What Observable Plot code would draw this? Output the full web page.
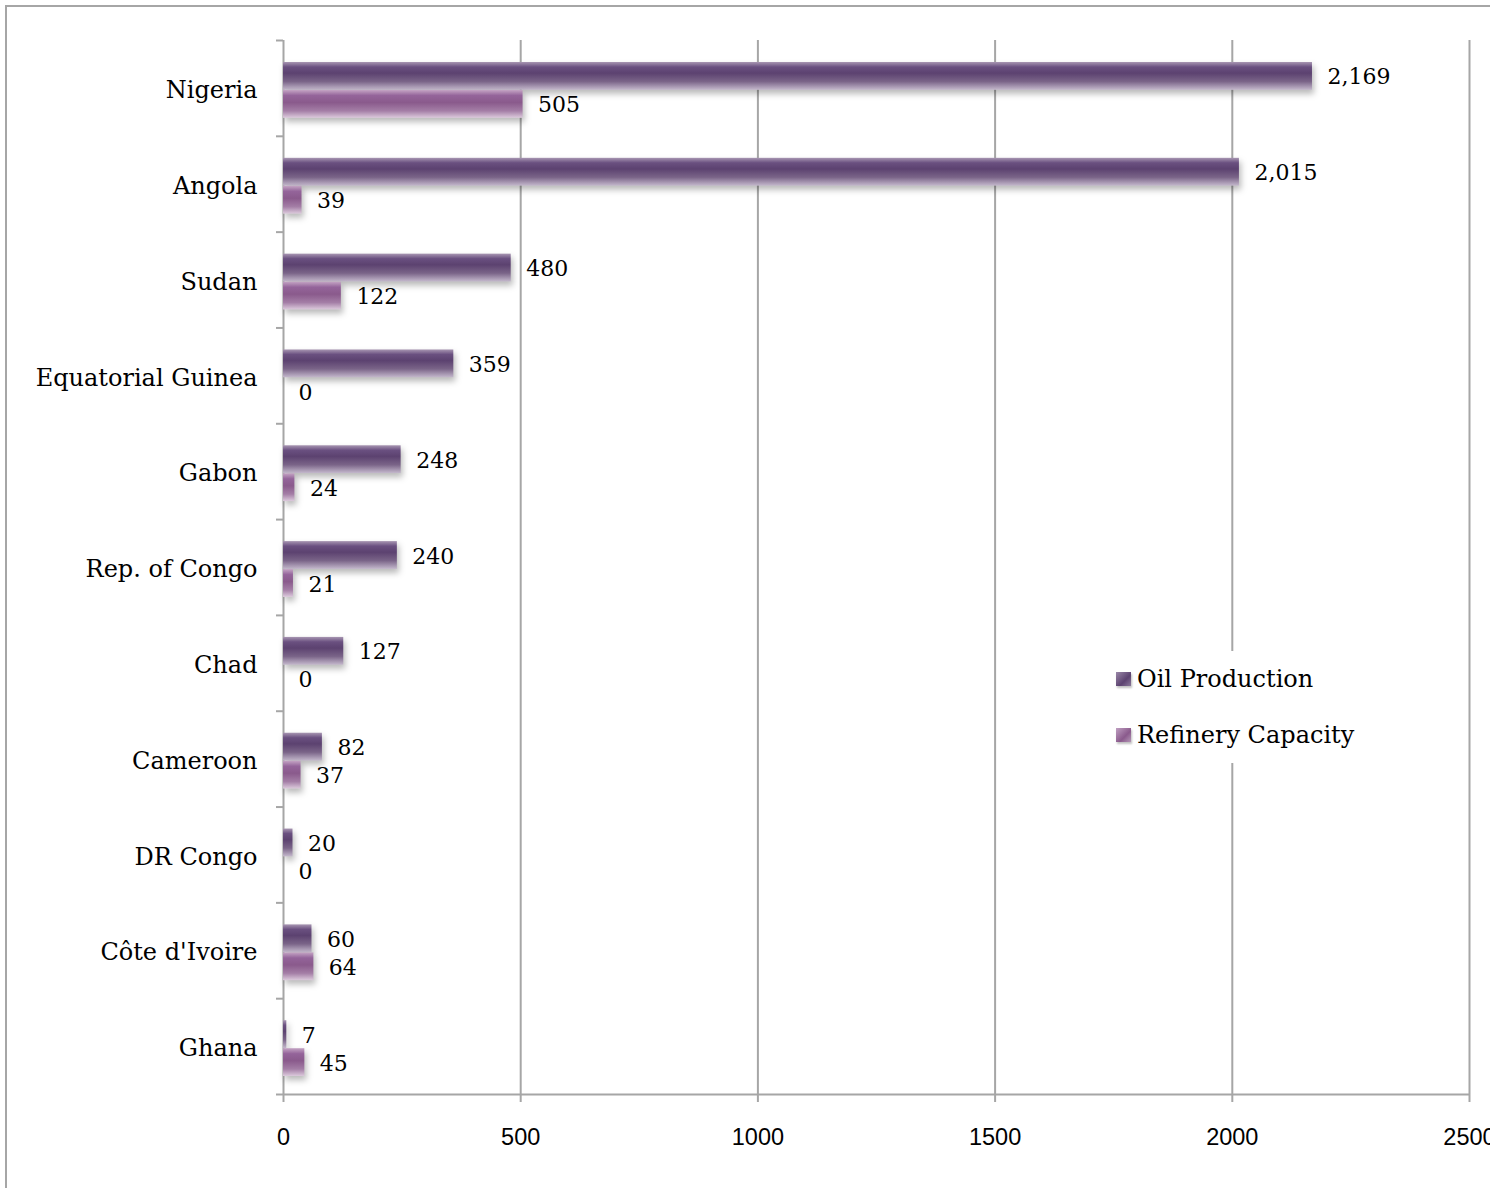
<!DOCTYPE html>
<html>
<head>
<meta charset="utf-8">
<script src="https://cdn.jsdelivr.net/npm/d3@7"></script>
<script src="https://cdn.jsdelivr.net/npm/@observablehq/plot@0.6"></script>
<style>
  html, body { margin: 0; padding: 0; background: #fff; }
  #wrap { position: relative; width: 1490px; height: 1188px; overflow: hidden; }
  #frameL { position: absolute; left: 5px; top: 5px; width: 2px; height: 1183px; background: #a6a6a6; }
  #frameT { position: absolute; left: 5px; top: 5px; height: 2px; width: 1485px; background: #a6a6a6; }
  #chart { position: absolute; left: 0; top: 0; width: 1502px; }
  #chart svg { max-width: none !important; }
  .bars rect { filter: drop-shadow(2px 4px 3px rgba(0,0,0,0.28)); }
  #legend { position: absolute; left: 1108px; top: 651px; width: 262px; padding: 11px 0 11px 8px; background: #fff; font-family: "DejaVu Serif", serif; font-size: 24px; color: #000; }
  .li { display: flex; align-items: center; height: 34px; }
  .li + .li { margin-top: 22px; }
  .sw { width: 15px; height: 14px; margin-right: 6px; box-shadow: 1px 2px 2px rgba(0,0,0,0.25); }
</style>
</head>
<body>
<div id="wrap">
  <div id="chart"></div>
  <div id="frameL"></div>
  <div id="frameT"></div>
  <div id="legend"></div>
</div>
<script>
const countries = ["Nigeria","Angola","Sudan","Equatorial Guinea","Gabon","Rep. of Congo","Chad","Cameroon","DR Congo","Côte d'Ivoire","Ghana"];
const oilProduction = [2169,2015,480,359,248,240,127,82,20,60,7];
const refineryCapacity = [505,39,122,0,24,21,0,37,0,64,45];
const xTicks = [0,500,1000,1500,2000,2500];
const seriesNames = ["Oil Production","Refinery Capacity"];

const oilData = countries.map((c,i) => ({country: c, value: oilProduction[i]}));
const refData = countries.map((c,i) => ({country: c, value: refineryCapacity[i]}));

const W = 1502, H = 1188;
const mTop = 40, mBottom = 94, mLeft = 283, mRight = 33;
const bw = (H - mTop - mBottom) / countries.length;
const grid = "#a6a6a6";
const serif = "DejaVu Serif, serif";
const fmt = d3.format(",");

const plot = Plot.plot({
  width: W, height: H,
  marginTop: mTop, marginBottom: mBottom, marginLeft: mLeft, marginRight: mRight,
  style: {background: "transparent", overflow: "visible", maxWidth: "none"},
  x: {domain: [0, 2500]},
  y: {type: "band", domain: countries, padding: 0, round: false},
  marks: [
    Plot.gridX({ticks: xTicks.slice(1), stroke: grid, strokeOpacity: 1, strokeWidth: 2}),
    Plot.ruleX([0], {stroke: grid, strokeWidth: 2}),
    Plot.ruleY([countries[countries.length-1]], {dy: bw/2, stroke: grid, strokeWidth: 2}),
    Plot.axisY({ticks: countries, tickSize: 7, tickFormat: () => "", dy: -bw/2, stroke: grid, strokeWidth: 2, label: null}),
    Plot.axisY({ticks: [countries[countries.length-1]], tickSize: 7, tickFormat: () => "", dy: bw/2, stroke: grid, strokeWidth: 2, label: null}),
    Plot.axisY({ticks: countries, tickSize: 0, tickPadding: 26, dy: 2, fontSize: 24, fontFamily: serif, fill: "#000", label: null}),
    Plot.axisX({ticks: xTicks, tickSize: 8, tickPadding: 26, stroke: grid, strokeWidth: 2, fontSize: 23.5, fontFamily: "Liberation Sans, Arial, sans-serif", fill: "#000", label: null, tickFormat: d => String(d)}),
    Plot.barX(oilData, {y: "country", x: "value", insetTop: 22, insetBottom: 46, fill: "url(#gOil)", className: "bars"}),
    Plot.barX(refData, {y: "country", x: "value", insetTop: 50, insetBottom: 18, fill: "url(#gRef)", className: "bars"}),
    Plot.text(oilData, {y: "country", x: "value", text: d => fmt(d.value), dx: 15, dy: -11, textAnchor: "start", fontSize: 22, fontFamily: serif, fill: "#000"}),
    Plot.text(refData, {y: "country", x: "value", text: d => fmt(d.value), dx: 15, dy: 17, textAnchor: "start", fontSize: 22, fontFamily: serif, fill: "#000"})
  ]
});

const defs = d3.select(plot).insert("defs", ":first-child");
defs.html(`
  <linearGradient id="gOil" x1="0" y1="0" x2="0" y2="1">
    <stop offset="0" stop-color="#a896b2"/>
    <stop offset="0.18" stop-color="#6a5080"/>
    <stop offset="0.4" stop-color="#5c4270"/>
    <stop offset="0.7" stop-color="#7a6488"/>
    <stop offset="1" stop-color="#c4b8cc"/>
  </linearGradient>
  <linearGradient id="gRef" x1="0" y1="0" x2="0" y2="1">
    <stop offset="0" stop-color="#c4a4c4"/>
    <stop offset="0.2" stop-color="#94649a"/>
    <stop offset="0.45" stop-color="#8a5a8c"/>
    <stop offset="0.75" stop-color="#a47ea6"/>
    <stop offset="1" stop-color="#dccadc"/>
  </linearGradient>
`);
document.getElementById("chart").appendChild(plot);

// legend
const legend = d3.select("#legend");
const swFills = ["linear-gradient(135deg,#9a88a8,#5c4270 60%,#8a789a)", "linear-gradient(135deg,#c0a0c2,#8a5a8c 60%,#b496b6)"];
seriesNames.forEach((n, i) => {
  const row = legend.append("div").attr("class", "li");
  row.append("div").attr("class", "sw").style("background", swFills[i]);
  row.append("span").text(n);
});
</script>
</body>
</html>
